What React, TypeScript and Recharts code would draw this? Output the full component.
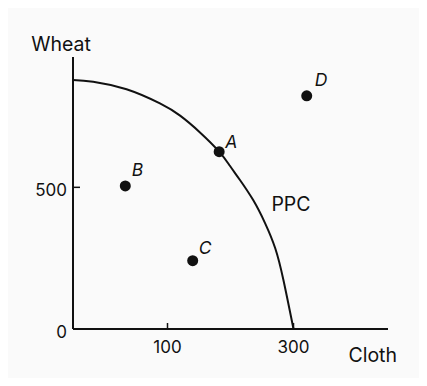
import { ComposedChart, Line, Scatter, XAxis, YAxis, ReferenceDot, Label } from 'recharts';

// PPC curve (cloth, wheat)
const ppcCloth = [-50, -18, 35, 88, 120, 152, 182, 199, 215, 236, 255, 271, 284, 300];
const ppcWheat = [879, 873, 846, 796, 753, 693, 626, 576, 526, 455, 373, 285, 173, 0];

// labelled points
const pointNames = ['A', 'B', 'C', 'D'];
const pointCloth = [182, 33, 140, 321];
const pointWheat = [626, 505, 241, 823];

const xTicks = [100, 300];
const yTicks = [0, 500];

const curveData = ppcCloth.map((x, i) => ({ x, y: ppcWheat[i] }));
const pointData = pointNames.map((name, i) => ({ name, x: pointCloth[i], y: pointWheat[i] }));

// where each letter sits next to its dot
const labelShift: Record<string, [number, number]> = {
  A: [6, -3.5],
  B: [6.5, -9.5],
  C: [6, -7],
  D: [8, -10],
};

const INK = '#111';
const FONT = 'Inter, "Liberation Sans", Arial, sans-serif';

const PointShape = (props: any) => {
  const { cx, cy, payload } = props;
  const [dx, dy] = labelShift[payload.name] || [6, -7];
  return (
    <g>
      <circle cx={cx} cy={cy} r={5.5} fill={INK} />
      <text x={cx + dx} y={cy + dy} fontSize={17.5} fontStyle="italic" fill={INK} fontFamily={FONT}>
        {payload.name}
      </text>
    </g>
  );
};

const YTick = (props: any) => {
  const { x, y, payload } = props;
  return (
    <g>
      <line x1={x} x2={x + 7} y1={y} y2={y} stroke={INK} strokeWidth={1.5} />
      <text x={x - 6} y={y + 3} textAnchor="end" dominantBaseline="central" fontSize={17} fill={INK} fontFamily={FONT}>
        {payload.value}
      </text>
    </g>
  );
};

const XTick = (props: any) => {
  const { x, y, payload } = props;
  return (
    <g>
      <line x1={x} x2={x} y1={y} y2={y - 6} stroke={INK} strokeWidth={1.5} />
      <text x={x} y={y + 24} textAnchor="middle" fontSize={17} fill={INK} fontFamily={FONT}>
        {payload.value}
      </text>
    </g>
  );
};

const App = () => {
  return (
    <div style={{ margin: -8, width: 427, height: 386, background: '#fafafa', fontFamily: FONT }}>
      <ComposedChart width={427} height={386} margin={{ top: 57, right: 39, bottom: 27, left: 33 }}>
        <XAxis
          type="number"
          dataKey="x"
          domain={[-50, 450]}
          ticks={xTicks}
          allowDataOverflow
          height={30}
          axisLine={{ stroke: INK, strokeWidth: 2 }}
          tickLine={false}
          tickSize={0}
          tickMargin={0}
          tick={XTick}
        >
          <Label value="Cloth" position="insideBottomRight" offset={0} dx={9} dy={3} fill={INK} fontSize={19.5} />
        </XAxis>
        <YAxis
          type="number"
          dataKey="y"
          domain={[0, 960]}
          ticks={yTicks}
          allowDataOverflow
          width={40}
          axisLine={{ stroke: INK, strokeWidth: 2 }}
          tickLine={false}
          tickSize={0}
          tickMargin={0}
          tick={YTick}
        >
          <Label value="Wheat" position="top" offset={6.5} dx={8} fill={INK} fontSize={19.5} />
        </YAxis>
        <Line
          data={curveData}
          dataKey="y"
          type="natural"
          stroke={INK}
          strokeWidth={2}
          dot={false}
          activeDot={false}
          isAnimationActive={false}
        />
        <Scatter data={pointData} dataKey="y" shape={PointShape} isAnimationActive={false} />
        <ReferenceDot x={296} y={441} r={0} stroke="none" label={{ value: 'PPC', position: 'center', fill: INK, fontSize: 19.5 }} />
      </ComposedChart>
    </div>
  );
};

export default App;
